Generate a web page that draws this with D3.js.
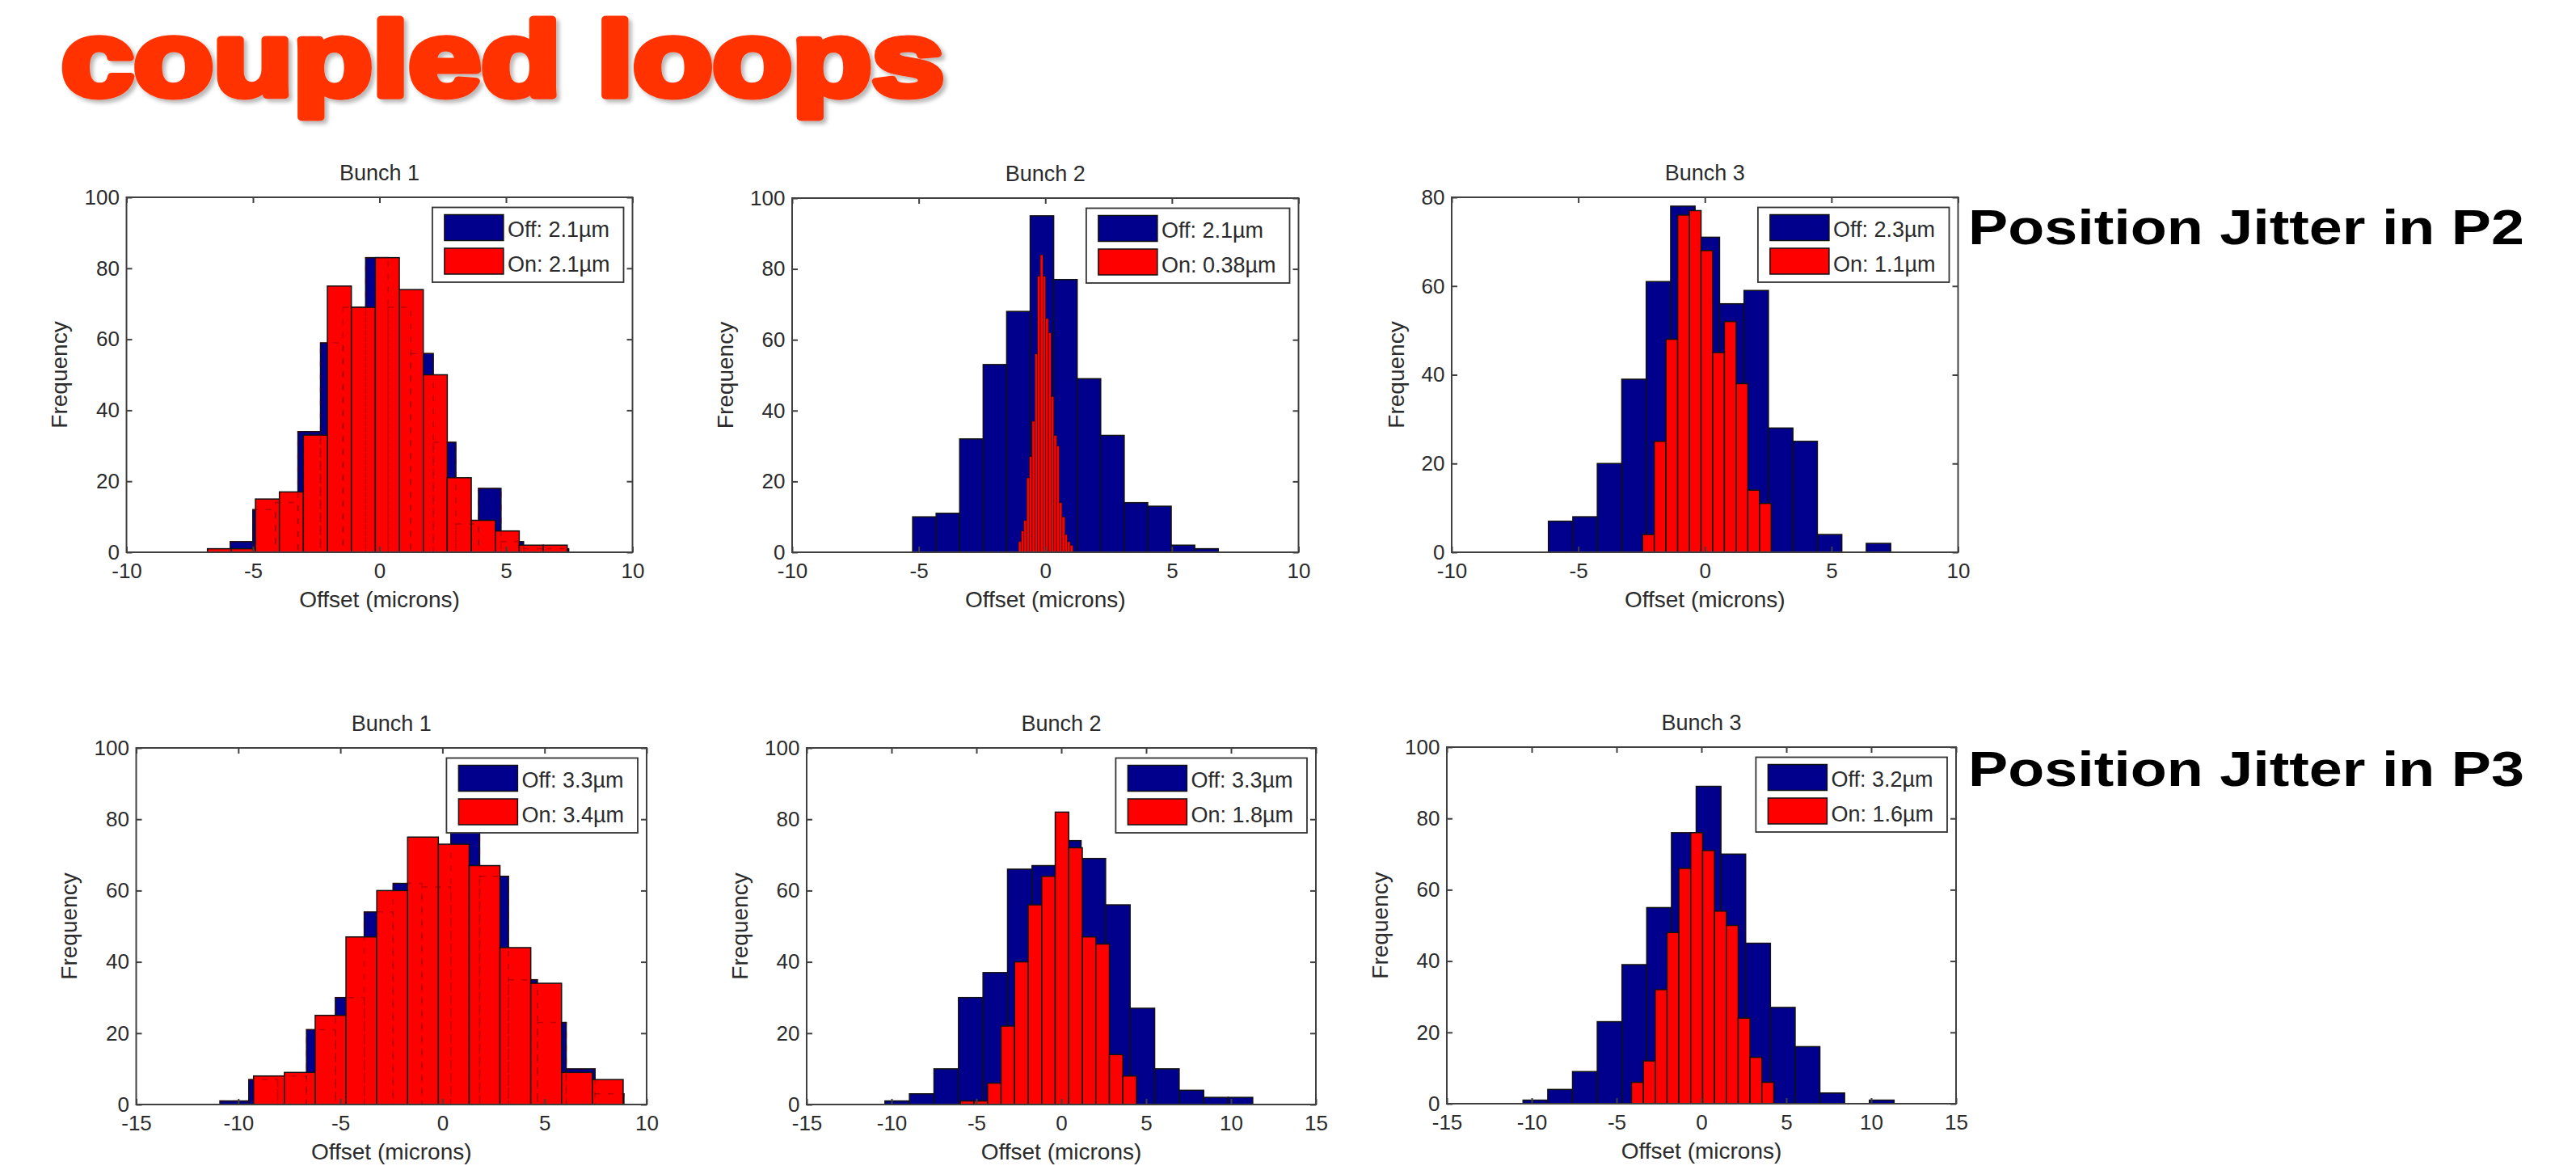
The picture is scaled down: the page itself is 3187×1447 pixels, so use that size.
<!DOCTYPE html>
<html>
<head>
<meta charset="utf-8">
<script src="https://cdn.jsdelivr.net/npm/d3@7"></script>
<style>
  body { margin: 0; background: #fff; }
  svg { display: block; font-family: "Liberation Sans", Arial, sans-serif; }
</style>
</head>
<body>
<div id="chart"></div>
<script>
// ---- data ----
var pageTitle = "coupled loops";
var rowLabels = ["Position Jitter in P2", "Position Jitter in P3"];
var titles = ["Bunch 1", "Bunch 2", "Bunch 3", "Bunch 1", "Bunch 2", "Bunch 3"];
var offLabels = ["Off: 2.1µm", "Off: 2.1µm", "Off: 2.3µm", "Off: 3.3µm", "Off: 3.3µm", "Off: 3.2µm"];
var onLabels = ["On: 2.1µm", "On: 0.38µm", "On: 1.1µm", "On: 3.4µm", "On: 1.8µm", "On: 1.6µm"];

var xTicksTop = [-10, -5, 0, 5, 10];
var xTicksP3b1 = [-15, -10, -5, 0, 5, 10];
var xTicksP3b23 = [-15, -10, -5, 0, 5, 10, 15];
var yTicks100 = [0, 20, 40, 60, 80, 100];
var yTicks80 = [0, 20, 40, 60, 80];

// histogram counts per bin, and [min, max] of the span the bins cover
var p2b1Off = [3, 12, 14, 34, 59, 69, 83, 69, 56, 31, 8, 18, 3, 1, 1];
var p2b1OffSpan = [-5.90, 7.48];
var p2b1On = [1, 1, 15, 17, 33, 75, 69, 83, 74, 50, 21, 9, 6, 2, 2];
var p2b1OnSpan = [-6.80, 7.42];

var p2b2Off = [10, 11, 32, 53, 68, 95, 77, 49, 33, 14, 13, 2, 1];
var p2b2OffSpan = [-5.24, 6.83];
var p2b2On = [3, 6, 9, 21, 27, 37, 56, 78, 84, 78, 66, 62, 44, 33, 30, 14, 10, 5, 3, 2];
var p2b2OnSpan = [-1.06, 1.09];

var p2b3Off = [7, 8, 20, 39, 61, 78, 71, 56, 59, 28, 25, 4, 0, 2];
var p2b3OffSpan = [-6.18, 7.34];
var p2b3On = [4, 25, 48, 76, 77, 68, 45, 52, 38, 14, 11];
var p2b3OnSpan = [-2.46, 2.62];

var p3b1Off = [1, 7, 8, 21, 30, 54, 62, 61, 78, 64, 35, 23, 10, 3];
var p3b1OffSpan = [-10.90, 8.89];
var p3b1On = [8, 9, 25, 47, 60, 75, 73, 67, 44, 34, 9, 7];
var p3b1OnSpan = [-9.25, 8.85];

var p3b2Off = [1, 3, 10, 30, 37, 66, 67, 74, 69, 56, 27, 10, 4, 2, 2];
var p3b2OffSpan = [-10.39, 11.28];
var p3b2On = [1, 1, 6, 22, 40, 56, 64, 82, 72, 47, 45, 14, 8];
var p3b2OnSpan = [-5.94, 4.43];

var p3b3Off = [1, 4, 9, 23, 39, 55, 76, 89, 70, 45, 27, 16, 3, 0, 1];
var p3b3OffSpan = [-10.51, 11.35];
var p3b3On = [6, 12, 32, 48, 66, 76, 71, 54, 50, 24, 13, 6];
var p3b3OnSpan = [-4.12, 4.26];

// ---- layout ----
var W = 3187, H = 1447;
var offColor = "#00008c", onColor = "#ff0000", inkColor = "#2b2b2b";
var fontFamily = "\"Liberation Sans\", Arial, sans-serif";

var panels = [
    { box: { left: 156.5, right: 782.5, top: 244, bottom: 683 }, xDomain: [-10, 10], yMax: 100, xTicks: xTicksTop, yTicks: yTicks100, off: p2b1Off, offSpan: p2b1OffSpan, on: p2b1On, onSpan: p2b1OnSpan, ghost: true },
    { box: { left: 980, right: 1606.5, top: 245, bottom: 683 }, xDomain: [-10, 10], yMax: 100, xTicks: xTicksTop, yTicks: yTicks100, off: p2b2Off, offSpan: p2b2OffSpan, on: p2b2On, onSpan: p2b2OnSpan },
    { box: { left: 1796, right: 2422.5, top: 244, bottom: 683 }, xDomain: [-10, 10], yMax: 80, xTicks: xTicksTop, yTicks: yTicks80, off: p2b3Off, offSpan: p2b3OffSpan, on: p2b3On, onSpan: p2b3OnSpan },
    { box: { left: 168.5, right: 800, top: 925, bottom: 1366 }, xDomain: [-15, 10], yMax: 100, xTicks: xTicksP3b1, yTicks: yTicks100, off: p3b1Off, offSpan: p3b1OffSpan, on: p3b1On, onSpan: p3b1OnSpan, ghost: true },
    { box: { left: 998, right: 1628, top: 925, bottom: 1366 }, xDomain: [-15, 15], yMax: 100, xTicks: xTicksP3b23, yTicks: yTicks100, off: p3b2Off, offSpan: p3b2OffSpan, on: p3b2On, onSpan: p3b2OnSpan },
    { box: { left: 1790, right: 2420, top: 924, bottom: 1365 }, xDomain: [-15, 15], yMax: 100, xTicks: xTicksP3b23, yTicks: yTicks100, off: p3b3Off, offSpan: p3b3OffSpan, on: p3b3On, onSpan: p3b3OnSpan }
];

var svg = d3.select("#chart").append("svg")
    .attr("width", W)
    .attr("height", H);

svg.append("rect").attr("width", W).attr("height", H).attr("fill", "#fff");

// soft shadow under the slide title
var defs = svg.append("defs");
defs.append("filter").attr("id", "shadow")
    .attr("x", "-5%").attr("y", "-10%").attr("width", "110%").attr("height", "130%")
    .append("feDropShadow")
    .attr("dx", 4).attr("dy", 4).attr("stdDeviation", 2.5)
    .attr("flood-color", "#000").attr("flood-opacity", 0.28);

svg.append("text")
    .attr("x", 76)
    .attr("y", 118)
    .attr("font-size", 130)
    .attr("font-weight", "bold")
    .attr("fill", "#ff3300")
    .attr("stroke", "#ff3300")
    .attr("stroke-width", 9)
    .attr("stroke-linejoin", "round")
    .attr("paint-order", "stroke")
    .attr("textLength", 1092)
    .attr("lengthAdjust", "spacingAndGlyphs")
    .attr("filter", "url(#shadow)")
    .text(pageTitle);

// row captions on the right
var rowBaselines = [302, 972];
rowLabels.forEach(function (t, i) {
    svg.append("text")
        .attr("x", 2435)
        .attr("y", rowBaselines[i])
        .attr("font-size", 61)
        .attr("font-weight", "bold")
        .attr("fill", "#000")
        .attr("textLength", 688)
        .attr("lengthAdjust", "spacingAndGlyphs")
        .text(t);
});

function drawHist(g, x, y, counts, span, color) {
    var n = counts.length, w = (span[1] - span[0]) / n;
    var bins = counts.map(function (c, i) {
        return { x0: span[0] + i * w, x1: span[0] + (i + 1) * w, c: c };
    }).filter(function (d) { return d.c > 0; });

    // thin bars get thinner edges, else they turn black
    var barPx = x(span[0] + w) - x(span[0]);
    var edge = Math.min(1.5, barPx * 0.18);

    g.selectAll(null)
        .data(bins)
        .enter().append("rect")
        .attr("x", d => x(d.x0))
        .attr("width", d => x(d.x1) - x(d.x0))
        .attr("y", d => y(d.c))
        .attr("height", d => y(0) - y(d.c))
        .attr("fill", color)
        .attr("stroke", "#111")
        .attr("stroke-width", edge);
    return bins;
}

panels.forEach(function (p, i) {
    var b = p.box;
    var x = d3.scaleLinear().domain(p.xDomain).range([b.left, b.right]);
    var y = d3.scaleLinear().domain([0, p.yMax]).range([b.bottom, b.top]);
    var g = svg.append("g");

    // Off first, On drawn over it
    var offBins = drawHist(g, x, y, p.off, p.offSpan, offColor);
    drawHist(g, x, y, p.on, p.onSpan, onColor);

    // hidden Off edges showing faintly through the On bars
    if (p.ghost) {
        g.selectAll(null)
            .data(offBins)
            .enter().append("rect")
            .attr("x", d => x(d.x0))
            .attr("width", d => x(d.x1) - x(d.x0))
            .attr("y", d => y(d.c))
            .attr("height", d => y(0) - y(d.c))
            .attr("fill", "none")
            .attr("stroke", "#5a0000")
            .attr("stroke-opacity", 0.4)
            .attr("stroke-width", 1.5)
            .attr("stroke-dasharray", "7,9");
    }

    // axes, ticks pointing inward on all four sides
    var fmt = d => String(d);
    var axes = g.append("g").attr("color", inkColor);

    var axB = axes.append("g")
        .attr("transform", "translate(0," + b.bottom + ")")
        .call(d3.axisBottom(x).tickValues(p.xTicks).tickFormat(fmt).tickSizeInner(-7).tickSizeOuter(0).tickPadding(13.5));
    axes.append("g")
        .attr("transform", "translate(0," + b.top + ")")
        .call(d3.axisTop(x).tickValues(p.xTicks).tickFormat("").tickSizeInner(-7).tickSizeOuter(0));
    var axL = axes.append("g")
        .attr("transform", "translate(" + b.left + ",0)")
        .call(d3.axisLeft(y).tickValues(p.yTicks).tickFormat(fmt).tickSizeInner(-7).tickSizeOuter(0).tickPadding(8.5));
    axes.append("g")
        .attr("transform", "translate(" + b.right + ",0)")
        .call(d3.axisRight(y).tickValues(p.yTicks).tickFormat("").tickSizeInner(-7).tickSizeOuter(0));

    [axB, axL].forEach(function (a) {
        a.attr("font-size", 26).attr("font-family", fontFamily);
    });
    axes.selectAll(".domain").remove();
    axes.selectAll(".tick line").attr("stroke-width", 2).attr("stroke", "#404040");

    axes.append("rect")
        .attr("x", b.left).attr("y", b.top)
        .attr("width", b.right - b.left).attr("height", b.bottom - b.top)
        .attr("fill", "none").attr("stroke", "#404040").attr("stroke-width", 2);

    // widest y tick label, to place the y label like MATLAB does
    var tickW = d3.max(axL.selectAll("text").nodes(), n => n.getComputedTextLength());
    var cx = (b.left + b.right) / 2;

    g.append("text")
        .attr("x", cx).attr("y", b.top - 21)
        .attr("text-anchor", "middle").attr("font-size", 27).attr("fill", inkColor)
        .text(titles[i]);

    g.append("text")
        .attr("x", cx).attr("y", b.bottom + 68)
        .attr("text-anchor", "middle").attr("font-size", 28).attr("fill", inkColor)
        .text("Offset (microns)");

    var ylx = b.left - 8.5 - tickW - 21.5;
    g.append("text")
        .attr("transform", "translate(" + ylx + "," + (b.top + b.bottom) / 2 + ") rotate(-90)")
        .attr("text-anchor", "middle").attr("font-size", 28).attr("fill", inkColor)
        .text("Frequency");

    // legend box, top right inside the axes
    var leg = g.append("g");
    var items = [{ label: offLabels[i], color: offColor }, { label: onLabels[i], color: onColor }];
    var texts = leg.selectAll("text")
        .data(items)
        .enter().append("text")
        .attr("font-size", 27).attr("fill", inkColor)
        .text(d => d.label);
    var textW = d3.max(texts.nodes(), n => n.getComputedTextLength());
    var legW = textW + 110, legH = 92.5;
    var lx = b.right - 11 - legW, ly = b.top + 12.5;

    leg.insert("rect", "text")
        .attr("x", lx).attr("y", ly).attr("width", legW).attr("height", legH)
        .attr("fill", "#fff").attr("stroke", "#333").attr("stroke-width", 1.8);
    leg.selectAll("rect.sw")
        .data(items)
        .enter().append("rect")
        .attr("class", "sw")
        .attr("x", lx + 15).attr("width", 73)
        .attr("y", (d, k) => ly + 9 + k * 41.5).attr("height", 32)
        .attr("fill", d => d.color).attr("stroke", "#111").attr("stroke-width", 1.5);
    texts.attr("x", lx + 93).attr("y", (d, k) => ly + 36.5 + k * 42.5);
});
</script>
</body>
</html>
